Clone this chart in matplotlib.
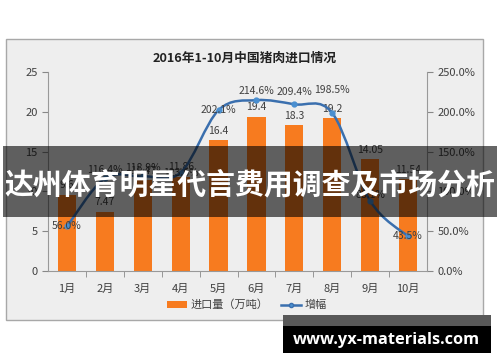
import matplotlib.pyplot as plt
from matplotlib.patches import Rectangle, PathPatch
from matplotlib.path import Path
from matplotlib.lines import Line2D
from matplotlib.patches import Patch

plt.rcParams['font.family'] = ['Noto Sans CJK SC', 'DejaVu Sans']

months = ['1月', '2月', '3月', '4月', '5月', '6月', '7月', '8月', '9月', '10月']
imports = [9.6, 7.47, 11.47, 11.86, 16.4, 19.4, 18.3, 19.2, 14.05, 11.54]
growth = [56.0, 116.4, 118.9, 123.6, 202.1, 214.6, 209.4, 198.5, 88.1, 43.5]
left_ticks = [0, 5, 10, 15, 20, 25]
right_ticks = [0, 50, 100, 150, 200, 250]

# label offsets for the growth labels (pixels above the point)
growth_dy = [0, 8, 8, 0, 0, 9, 12, 23, 6, 0]

W, H = 500, 362
fig = plt.figure(figsize=(5, 3.62), dpi=100)
fig.patch.set_facecolor('white')

def fx(px): return px / W
def fy(py): return (H - py) / H

# chart frame
fig.add_artist(Rectangle((fx(6), fy(320)), fx(483) - fx(6), fy(39) - fy(320),
                         transform=fig.transFigure, facecolor='#eeeeee',
                         edgecolor='#a8a8a8', lw=1.0, zorder=0))

ax = fig.add_axes([fx(48), fy(271), fx(427) - fx(48), fy(72) - fy(271)])
ax.set_facecolor('none')
x = list(range(len(months)))
ax.bar(x, imports, width=0.48, color='#f77b1f', zorder=2)
for i, v in enumerate(imports):
    ax.annotate(f'{v:g}', (i, v), xytext=(0, 3), textcoords='offset points',
                ha='center', va='bottom', fontsize=7.5, color='#404040')
ax.set_xlim(-0.5, len(months) - 0.5)
ax.set_ylim(0, 25)
ax.set_yticks(left_ticks)
ax.set_yticklabels([str(t) for t in left_ticks])
ax.set_xticks(x)
ax.set_xticklabels(months)
ax.set_xticks([i + 0.5 for i in x[:-1]], minor=True)
ax.tick_params(axis='x', which='major', length=0, pad=9, labelsize=8, labelcolor='#404040')
ax.tick_params(axis='x', which='minor', length=4, color='#888888', direction='out')
ax.tick_params(axis='y', length=4, color='#888888', labelsize=8, labelcolor='#404040')
for s in ['top', 'right']:
    ax.spines[s].set_visible(False)
ax.spines['left'].set_color('#999999')
ax.spines['bottom'].set_color('#999999')

ax2 = ax.twinx()
ax2.set_ylim(0, 250)
ax2.set_yticks(right_ticks)
ax2.set_yticklabels([f'{t:.1f}%' for t in right_ticks])
ax2.tick_params(axis='y', length=4, color='#888888', labelsize=8, labelcolor='#404040')
for s in ['top', 'left', 'bottom']:
    ax2.spines[s].set_visible(False)
ax2.spines['right'].set_color('#999999')

# smooth line (Catmull-Rom as cubic bezier)
pts = list(zip(x, growth))
verts = [pts[0]]
codes = [Path.MOVETO]
n = len(pts)
for i in range(n - 1):
    p0 = pts[i - 1] if i > 0 else pts[i]
    p1 = pts[i]
    p2 = pts[i + 1]
    p3 = pts[i + 2] if i + 2 < n else pts[i + 1]
    c1 = (p1[0] + (p2[0] - p0[0]) / 6, p1[1] + (p2[1] - p0[1]) / 6)
    c2 = (p2[0] - (p3[0] - p1[0]) / 6, p2[1] - (p3[1] - p1[1]) / 6)
    verts += [c1, c2, p2]
    codes += [Path.CURVE4] * 3
ax2.add_patch(PathPatch(Path(verts, codes), fill=False, edgecolor='#3a6fae', lw=1.8, zorder=3))
ax2.plot(x, growth, 'o', color='#4a8fd0', ms=3.5, zorder=4)
for i, v in enumerate(growth):
    ax2.annotate(f'{v:.1f}%', (i, v), xytext=(0, growth_dy[i] * 0.72), textcoords='offset points',
                 ha='center', va='center', fontsize=7.5, color='#404040', zorder=5)

fig.text(fx(245), fy(58), '2016年1-10月中国猪肉进口情况', ha='center', va='center',
         fontsize=9.2, fontweight='bold', color='#222222')

handles = [Patch(facecolor='#f77b1f'),
           Line2D([0], [0], color='#3a6fae', lw=1.8, marker='o', ms=3, markerfacecolor='#4a8fd0')]
fig.legend(handles, ['进口量（万吨）', '增幅'], loc='center', bbox_to_anchor=(fx(247), fy(305)),
           ncol=2, frameon=False, fontsize=8, handlelength=1.8, handleheight=0.6,
           columnspacing=1.2, handletextpad=0.3, labelcolor='#404040')

# overlay band with headline
fig.add_artist(Rectangle((fx(3), fy(217)), fx(497) - fx(3), fy(146) - fy(217),
                         transform=fig.transFigure, facecolor='black', alpha=0.6, lw=0, zorder=10))
fig.text(fx(250), fy(184), '达州体育明星代言费用调查及市场分析', ha='center', va='center',
         fontsize=20.8, fontweight='bold', color='white', zorder=11)

# watermark
fig.add_artist(Rectangle((fx(283), fy(326)), fx(491) - fx(283), fy(315) - fy(326),
                         transform=fig.transFigure, facecolor='#585858', lw=0, zorder=10))
fig.add_artist(Rectangle((fx(283), fy(353)), fx(491) - fx(283), fy(326) - fy(353),
                         transform=fig.transFigure, facecolor='black', lw=0, zorder=10))
fig.text(fx(386), fy(339.5), 'www.yx-materials.com', ha='center', va='center',
         fontsize=11.8, fontweight='bold', color='white', family=['Open Sans', 'DejaVu Sans'], zorder=11)

fig.savefig('out.png', dpi=100)
